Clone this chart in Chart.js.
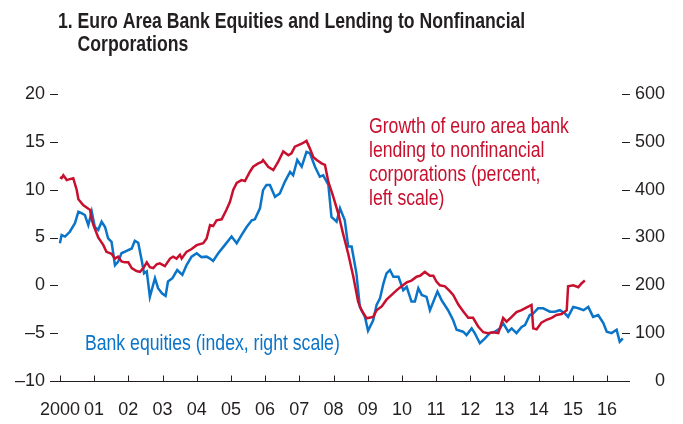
<!DOCTYPE html>
<html>
<head>
<meta charset="utf-8">
<script src="https://cdn.jsdelivr.net/npm/chart.js@4.4.1/dist/chart.umd.min.js"></script>
<style>
  html, body { margin: 0; padding: 0; background: #fff; }
  #wrap { width: 683px; height: 424px; position: relative; }
</style>
</head>
<body>
<div id="wrap"><canvas id="lendingChart" width="683" height="424"></canvas></div>
<script>
// Years shown on the x axis
const yearTicks = [2000, 2001, 2002, 2003, 2004, 2005, 2006, 2007, 2008, 2009, 2010, 2011, 2012, 2013, 2014, 2015, 2016];
const leftTicks = [-10, -5, 0, 5, 10, 15, 20];
const rightTicks = [0, 100, 200, 300, 400, 500, 600];

// Growth of euro area bank lending to NFCs (percent, left scale)
const lendingYears = [
  2000.00, 2000.05, 2000.10, 2000.20, 2000.29, 2000.39, 2000.49, 2000.54, 2000.68, 2000.83,
  2000.88, 2000.93, 2000.98, 2001.12, 2001.27, 2001.36, 2001.51, 2001.61, 2001.70, 2001.80,
  2001.90, 2002.00, 2002.10, 2002.24, 2002.34, 2002.44, 2002.54, 2002.63, 2002.73, 2002.83,
  2002.92, 2003.07, 2003.22, 2003.31, 2003.41, 2003.51, 2003.56, 2003.70, 2003.85, 2004.00,
  2004.19, 2004.29, 2004.39, 2004.48, 2004.58, 2004.73, 2004.87, 2004.97, 2005.07, 2005.17,
  2005.31, 2005.41, 2005.56, 2005.65, 2005.80, 2005.90, 2005.94, 2006.09, 2006.24, 2006.38,
  2006.53, 2006.68, 2006.77, 2006.87, 2007.07, 2007.21, 2007.31, 2007.41, 2007.51, 2007.65,
  2007.75, 2007.85, 2007.99, 2008.14, 2008.28, 2008.43, 2008.58, 2008.72, 2008.82, 2008.97,
  2009.16, 2009.26, 2009.41, 2009.55, 2009.70, 2009.85, 2009.99, 2010.14, 2010.28, 2010.43,
  2010.53, 2010.67, 2010.82, 2010.92, 2011.01, 2011.11, 2011.26, 2011.40, 2011.50, 2011.65,
  2011.79, 2011.94, 2012.08, 2012.23, 2012.38, 2012.52, 2012.67, 2012.82, 2012.96, 2013.06,
  2013.21, 2013.35, 2013.50, 2013.65, 2013.79, 2013.84, 2013.94, 2014.08, 2014.23, 2014.38,
  2014.52, 2014.67, 2014.82, 2014.86, 2015.01, 2015.16, 2015.25, 2015.35
];
const lendingValues = [
  11.3, 11.2, 11.5, 11.0, 11.1, 11.2, 10.0, 9.0, 8.4, 8.0,
  7.9, 6.9, 6.3, 5.0, 4.2, 3.5, 3.3, 2.8, 3.0, 2.5,
  2.4, 2.4, 1.8, 1.5, 1.4, 1.8, 2.4, 1.9, 1.8, 2.2,
  2.3, 2.0, 2.8, 3.0, 2.8, 3.2, 2.8, 3.5, 3.8, 4.2,
  4.4, 4.9, 6.3, 6.2, 6.8, 6.9, 7.9, 8.7, 10.0, 10.7,
  11.0, 10.9, 11.9, 12.4, 12.75, 12.9, 13.1, 12.4, 12.05, 12.9,
  14.0, 13.6, 13.8, 14.5, 14.8, 15.1, 14.3, 13.4, 13.1, 12.75,
  12.6, 10.8, 9.3, 7.5, 5.4, 3.3, 0.9, -1.7, -2.6, -3.45,
  -3.3, -2.6, -2.2, -1.5, -1.0, -0.5, -0.1, 0.3, 0.5, 0.9,
  1.0, 1.4, 1.0, 1.0, 0.4, 0.0, -0.1, -0.6, -1.0, -2.0,
  -2.7, -3.4, -3.4, -4.3, -4.9, -5.0, -4.9, -5.0, -3.4, -3.8,
  -3.3, -2.8, -2.6, -2.3, -2.05, -4.5, -4.6, -3.9, -3.6, -3.4,
  -3.1, -3.0, -2.6, -0.1, 0.0, -0.2, 0.2, 0.5
];

// Bank equities (index, right scale)
const equityYears = [
  2000.00, 2000.05, 2000.15, 2000.29, 2000.44, 2000.54, 2000.63, 2000.73, 2000.83, 2000.93,
  2001.02, 2001.12, 2001.22, 2001.32, 2001.41, 2001.51, 2001.61, 2001.70, 2001.80, 2001.95,
  2002.10, 2002.19, 2002.29, 2002.39, 2002.46, 2002.54, 2002.63, 2002.78, 2002.87, 2002.99,
  2003.09, 2003.16, 2003.29, 2003.43, 2003.58, 2003.70, 2003.85, 2004.00, 2004.14, 2004.29,
  2004.39, 2004.48, 2004.63, 2004.82, 2005.02, 2005.17, 2005.31, 2005.46, 2005.61, 2005.70,
  2005.85, 2005.94, 2006.04, 2006.14, 2006.29, 2006.43, 2006.58, 2006.73, 2006.82, 2006.94,
  2007.07, 2007.21, 2007.31, 2007.46, 2007.60, 2007.70, 2007.85, 2007.94, 2008.09, 2008.19,
  2008.33, 2008.43, 2008.53, 2008.67, 2008.77, 2008.92, 2009.01, 2009.16, 2009.26, 2009.36,
  2009.46, 2009.55, 2009.65, 2009.75, 2009.90, 2010.04, 2010.14, 2010.28, 2010.38, 2010.48,
  2010.58, 2010.72, 2010.82, 2010.96, 2011.04, 2011.16, 2011.35, 2011.50, 2011.60, 2011.79,
  2011.89, 2012.04, 2012.13, 2012.18, 2012.28, 2012.43, 2012.57, 2012.72, 2012.87, 2012.96,
  2013.11, 2013.21, 2013.35, 2013.50, 2013.60, 2013.74, 2013.84, 2013.98, 2014.13, 2014.33,
  2014.47, 2014.62, 2014.77, 2014.86, 2015.01, 2015.16, 2015.31, 2015.45, 2015.59, 2015.74,
  2015.89, 2015.99, 2016.13, 2016.28, 2016.37, 2016.46
];
const equityValues = [
  288, 305, 302, 312, 330, 354, 351, 347, 326, 354,
  322, 316, 333, 322, 298, 291, 242, 249, 267, 272,
  277, 293, 289, 253, 225, 229, 176, 215, 194, 183,
  178, 208, 215, 232, 222, 242, 260, 267, 259, 260,
  256, 251, 267, 284, 302, 288, 305, 322, 336, 338,
  361, 399, 410, 410, 385, 392, 417, 437, 430, 462,
  448, 479, 476, 448, 427, 430, 410, 343, 333, 361,
  336, 281, 281, 225, 155, 134, 105, 127, 159, 173,
  204, 225, 232, 218, 218, 190, 197, 166, 166, 194,
  180, 176, 148, 173, 187, 169, 148, 127, 107, 103,
  96, 110, 100, 93, 79, 89, 100, 103, 110, 121,
  103, 110, 100, 113, 117, 138, 141, 152, 152, 145,
  145, 148, 141, 134, 155, 152, 148, 155, 134, 138,
  121, 103, 100, 107, 82, 89
];

const RED = '#c8102e';
const BLUE = '#0a74c8';
const INK = '#231f20';
const FONT = '"Liberation Sans", Arial, sans-serif';
const SQUEEZE = 0.82; // condensed look

function toPoints(xs, ys) {
  return xs.map((x, i) => ({ x: x, y: ys[i] }));
}

// draws narrow text by squeezing it horizontally
function narrowText(ctx, text, x, y, font) {
  ctx.save();
  ctx.translate(x, y);
  ctx.scale(SQUEEZE, 1);
  ctx.font = font;
  ctx.fillText(text, 0, 0);
  ctx.restore();
}

// title, notes, axis line and the little tick dashes
const decorations = {
  id: 'decorations',
  afterDraw(chart) {
    const ctx = chart.ctx;
    const area = chart.chartArea;
    const x = chart.scales.x;
    const yL = chart.scales.yLeft;
    const yR = chart.scales.yRight;

    ctx.save();
    ctx.strokeStyle = INK;
    ctx.lineWidth = 1;
    const base = Math.round(yL.getPixelForValue(-10)) + 0.5;
    ctx.beginPath();
    ctx.moveTo(area.left, base);
    ctx.lineTo(area.right, base);
    yearTicks.forEach(yr => {
      const px = Math.round(x.getPixelForValue(yr)) + 0.5;
      ctx.moveTo(px, base);
      ctx.lineTo(px, base - 6);
    });
    leftTicks.forEach(v => {
      if (v === -10) return;
      const py = Math.round(yL.getPixelForValue(v)) + 0.5;
      ctx.moveTo(area.left, py);
      ctx.lineTo(area.left + 8, py);
    });
    rightTicks.forEach(v => {
      if (v === 0) return;
      const py = Math.round(yR.getPixelForValue(v)) + 0.5;
      ctx.moveTo(area.right - 8, py);
      ctx.lineTo(area.right, py);
    });
    ctx.stroke();

    // title
    ctx.fillStyle = INK;
    ctx.textBaseline = 'alphabetic';
    const titleFont = 'bold 21.5px ' + FONT;
    narrowText(ctx, '1. Euro Area Bank Equities and Lending to Nonfinancial', 58, 28, titleFont);
    ctx.font = titleFont;
    const indent = ctx.measureText('1. ').width * SQUEEZE;
    narrowText(ctx, 'Corporations', 58 + indent, 51, titleFont);

    // series notes
    const noteFont = '21.5px ' + FONT;
    ctx.fillStyle = RED;
    ['Growth of euro area bank', 'lending to nonfinancial', 'corporations (percent,', 'left scale)']
      .forEach((line, i) => narrowText(ctx, line, 369, 133 + i * 24, noteFont));
    ctx.fillStyle = BLUE;
    narrowText(ctx, 'Bank equities (index, right scale)', 85, 350, noteFont);
    ctx.restore();
  }
};

const ctx = document.getElementById('lendingChart').getContext('2d');
new Chart(ctx, {
  type: 'line',
  data: {
    datasets: [
      {
        label: 'Lending growth',
        data: toPoints(lendingYears, lendingValues),
        yAxisID: 'yLeft',
        borderColor: RED,
        borderWidth: 2.5,
        pointRadius: 0,
        tension: 0,
        order: 0
      },
      {
        label: 'Bank equities',
        data: toPoints(equityYears, equityValues),
        yAxisID: 'yRight',
        borderColor: BLUE,
        borderWidth: 2.5,
        pointRadius: 0,
        tension: 0,
        order: 1
      }
    ]
  },
  options: {
    responsive: false,
    animation: false,
    layout: { padding: { top: 94, right: 18, left: 0, bottom: 0 } },
    plugins: { legend: { display: false }, tooltip: { enabled: false } },
    scales: {
      x: {
        type: 'linear',
        min: 1999.71,
        max: 2016.67,
        afterBuildTicks: s => { s.ticks = yearTicks.map(v => ({ value: v })); },
        afterFit: s => { s.height = 43; },
        grid: { display: false, drawTicks: false },
        border: { display: false },
        ticks: {
          padding: 18,
          color: INK,
          font: { family: FONT, size: 18 },
          maxRotation: 0,
          autoSkip: false,
          callback: v => v === 2000 ? '2000' : String(v % 100).padStart(2, '0')
        }
      },
      yLeft: {
        position: 'left',
        min: -10,
        max: 20,
        afterBuildTicks: s => { s.ticks = leftTicks.map(v => ({ value: v })); },
        afterFit: s => { s.width = 50; },
        grid: { display: false, drawTicks: false },
        border: { display: false },
        ticks: {
          padding: 5,
          color: INK,
          font: { family: FONT, size: 18 },
          callback: v => v < 0 ? '\u2013' + Math.abs(v) : String(v)
        }
      },
      yRight: {
        position: 'right',
        min: 0,
        max: 600,
        afterBuildTicks: s => { s.ticks = rightTicks.map(v => ({ value: v })); },
        afterFit: s => { s.width = 35; },
        grid: { display: false, drawTicks: false },
        border: { display: false },
        ticks: {
          padding: 5,
          crossAlign: 'far',
          color: INK,
          font: { family: FONT, size: 18 }
        }
      }
    }
  },
  plugins: [decorations]
});
</script>
</body>
</html>
